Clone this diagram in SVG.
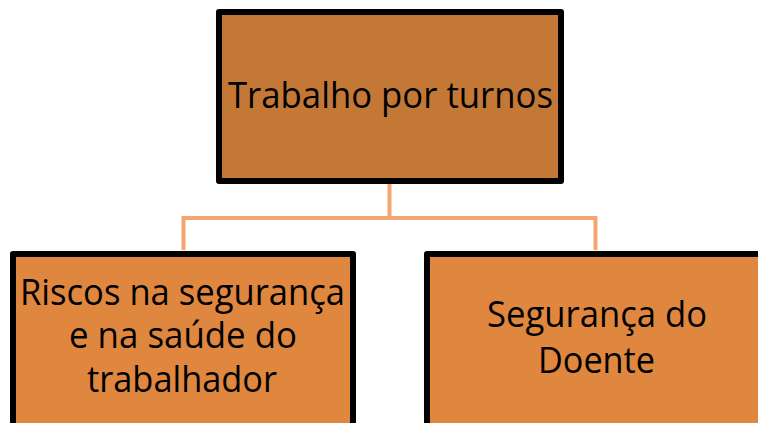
<svg xmlns="http://www.w3.org/2000/svg" width="758" height="423" viewBox="0 0 758 423">
  <style>
    .box { stroke: #000000; stroke-width: 6; stroke-linejoin: round; }
    .top { fill: #C47836; }
    .sub { fill: #DF873F; }
    .lbl { font-family: "Open Sans", "Liberation Sans", sans-serif; font-size: 37px; fill: #000000; }
    .conn { fill: none; stroke: #F5A571; stroke-width: 4; }
  </style>
  <rect width="758" height="423" fill="#FFFFFF"/>
  <g id="connectors">
    <path class="conn" d="M389.5,184 V218 M183.5,250 V218 H595.5 V250"/>
  </g>
  <g id="node-top">
    <rect class="box top" x="219" y="12" width="342" height="169"/>
    <text class="lbl" x="228" y="108" textLength="325" lengthAdjust="spacingAndGlyphs">Trabalho por turnos</text>
  </g>
  <g id="node-left">
    <rect class="box sub" x="13" y="254" width="340" height="190"/>
    <text class="lbl" x="20" y="305" textLength="325" lengthAdjust="spacingAndGlyphs">Riscos na segurança</text>
    <text class="lbl" x="69" y="348" textLength="228" lengthAdjust="spacingAndGlyphs">e na saúde do</text>
    <text class="lbl" x="87" y="392" textLength="190" lengthAdjust="spacingAndGlyphs">trabalhador</text>
  </g>
  <g id="node-right">
    <rect class="box sub" x="427" y="254" width="340" height="190"/>
    <text class="lbl" x="487" y="327" textLength="220" lengthAdjust="spacingAndGlyphs">Segurança do</text>
    <text class="lbl" x="538" y="373" textLength="117" lengthAdjust="spacingAndGlyphs">Doente</text>
  </g>
</svg>
